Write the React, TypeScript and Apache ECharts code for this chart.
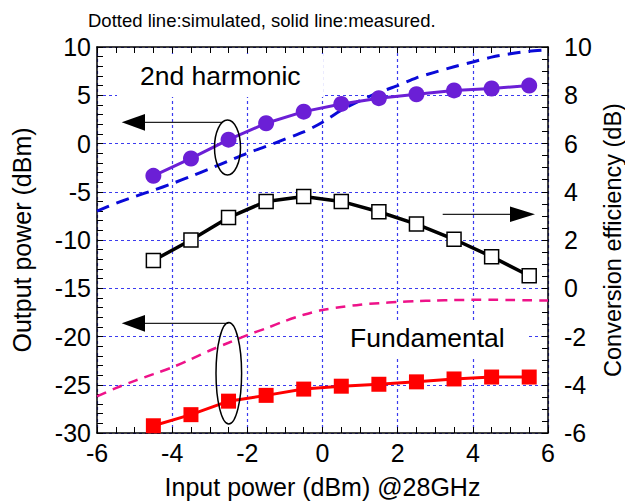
import React, { useEffect, useRef } from "react";
import * as echarts from "echarts";

const FONT = "'Liberation Sans', Arial, sans-serif";

// Measured points (input power, dBm)
const measX = [-4.5, -3.5, -2.5, -1.5, -0.5, 0.5, 1.5, 2.5, 3.5, 4.5, 5.5];
const harm2Measured = [-3.35, -1.55, 0.4, 2.1, 3.3, 4.1, 4.7, 5.1, 5.5, 5.7, 6.0];
const convEfficiency = [1.15, 2.0, 2.93, 3.6, 3.8, 3.6, 3.17, 2.66, 2.03, 1.31, 0.52];
const fundMeasured = [-29.25, -28.1, -26.7, -26.1, -25.45, -25.15, -24.95, -24.7, -24.4, -24.2, -24.2];

// Simulated curves
const simX = [-6, -5.5, -5, -4.5, -4, -3.5, -3, -2.5, -2, -1.5, -1, -0.5, 0, 0.5, 1, 1.5, 2, 2.5, 3, 3.5, 4, 4.5, 5, 5.5, 6];
const harm2Simulated = [-7.0, -6.2, -5.5, -4.85, -4.15, -3.4, -2.62, -1.8, -1.0, -0.3, 0.45, 1.2, 2.2, 3.45, 4.45, 5.3, 6.0, 6.8, 7.4, 7.95, 8.45, 8.95, 9.3, 9.55, 9.7];
const fundSimulated = [-26.2, -25.35, -24.6, -23.9, -23.2, -22.35, -21.45, -20.65, -19.85, -19.15, -18.4, -17.75, -17.25, -16.95, -16.7, -16.55, -16.42, -16.33, -16.27, -16.22, -16.2, -16.2, -16.22, -16.25, -16.28];

const pair = (xs: number[], ys: number[]) => xs.map((x, i) => [x, ys[i]]);

export default function App() {
  const ref = useRef<HTMLDivElement>(null);
  useEffect(() => {
    if (!ref.current) return;
    const chart = echarts.init(ref.current, null, { renderer: "svg" });
    const tick = { show: true, inside: true, length: 6, lineStyle: { color: "#000", width: 1 } };
    const axisLine = { show: true, onZero: false, lineStyle: { color: "#000", width: 1.5 } };
    const gridLine = { show: true, lineStyle: { color: "#3b3bef", width: 1.2, type: [3, 3] } };
    const label = { fontSize: 25, color: "#000", fontFamily: FONT };
    const nameStyle = { fontSize: 25, color: "#000", fontFamily: FONT };
    chart.setOption({
      animation: false,
      backgroundColor: "#fff",
      grid: { left: 97, right: 77, top: 47, bottom: 68, containLabel: false, outerBoundsMode: "none" },
      xAxis: [
        {
          type: "value", position: "bottom", min: -6, max: 6, interval: 2,
          axisLine, axisTick: tick,
          minorTick: { show: true, splitNumber: 4, length: 6, lineStyle: { color: "#000" } },
          splitLine: gridLine,
          axisLabel: { ...label, margin: 7 },
          name: "Input power (dBm) @28GHz", nameLocation: "middle", nameGap: 41, nameTextStyle: nameStyle,
        },
        {
          type: "value", position: "top", min: -6, max: 6, interval: 2,
          axisLine, axisTick: tick,
          minorTick: { show: true, splitNumber: 4, length: 6, lineStyle: { color: "#000" } },
          splitLine: { show: false }, axisLabel: { show: false },
        },
      ],
      yAxis: [
        {
          type: "value", position: "left", min: -30, max: 10, interval: 5,
          axisLine, axisTick: tick,
          minorTick: { show: true, splitNumber: 5, length: 6, lineStyle: { color: "#000" } },
          splitLine: gridLine,
          axisLabel: { ...label, margin: 6 },
          name: "Output power (dBm)", nameLocation: "middle", nameRotate: 90, nameGap: 63, nameTextStyle: nameStyle,
        },
        {
          type: "value", position: "right", min: -6, max: 10, interval: 2,
          axisLine, axisTick: tick,
          minorTick: { show: true, splitNumber: 4, length: 6, lineStyle: { color: "#000" } },
          splitLine: { show: false },
          axisLabel: { ...label, margin: 16 },
          name: "Conversion efficiency (dB)", nameLocation: "middle", nameRotate: 90, nameGap: 53,
          nameMoveOverlap: false,
          nameTextStyle: { ...nameStyle, fontSize: 23.5 },
        },
      ],
      series: [
        {
          name: "2nd harmonic (simulated)", type: "line", xAxisIndex: 0, yAxisIndex: 0,
          data: pair(simX, harm2Simulated), smooth: 0.3, symbol: "none",
          lineStyle: { color: "#0a0ad8", width: 3, type: [13, 8] }, z: 3,
        },
        {
          name: "Fundamental (simulated)", type: "line", xAxisIndex: 0, yAxisIndex: 0,
          data: pair(simX, fundSimulated), smooth: 0.3, symbol: "none",
          lineStyle: { color: "#ee1289", width: 2.5, type: [10, 7] }, z: 3,
        },
        {
          name: "2nd harmonic (measured)", type: "line", xAxisIndex: 0, yAxisIndex: 0,
          data: pair(measX, harm2Measured), symbol: "circle", symbolSize: 16,
          itemStyle: { color: "#6b1fd6" }, lineStyle: { color: "#6b1fd6", width: 3 }, z: 4,
        },
        {
          name: "Conversion efficiency", type: "line", xAxisIndex: 0, yAxisIndex: 1,
          data: pair(measX, convEfficiency), symbol: "rect", symbolSize: 14,
          itemStyle: { color: "#fff", borderColor: "#000", borderWidth: 1.5 },
          lineStyle: { color: "#000", width: 3.5 }, z: 4,
        },
        {
          name: "Fundamental (measured)", type: "line", xAxisIndex: 0, yAxisIndex: 0,
          data: pair(measX, fundMeasured), symbol: "rect", symbolSize: 15,
          itemStyle: { color: "#ff0000" }, lineStyle: { color: "#ff0000", width: 3 }, z: 4,
        },
      ],
      graphic: [
        { type: "rect", z: 1, silent: true, shape: { x: 117, y: 54, width: 206, height: 43 }, style: { fill: "#fff" } },
        { type: "rect", z: 1, silent: true, shape: { x: 323, y: 323, width: 204, height: 34 }, style: { fill: "#fff" } },
        {
          type: "text", z: 10, x: 88, y: 20,
          style: { text: "Dotted line:simulated, solid line:measured.", fontSize: 18.5, fontFamily: FONT, fill: "#000", textVerticalAlign: "middle" },
        },
        {
          type: "text", z: 10, x: 140, y: 76,
          style: { text: "2nd harmonic", fontSize: 26.5, fontFamily: FONT, fill: "#000", textVerticalAlign: "middle" },
        },
        {
          type: "text", z: 10, x: 350, y: 338,
          style: { text: "Fundamental", fontSize: 26.5, fontFamily: FONT, fill: "#000", textVerticalAlign: "middle" },
        },
        // upper left arrow + ellipse
        { type: "line", z: 10, shape: { x1: 145, y1: 122.3, x2: 222, y2: 122.3 }, style: { stroke: "#222", lineWidth: 1.3 } },
        { type: "polygon", z: 10, shape: { points: [[121.7, 122.3], [145, 114], [145, 130.7]] }, style: { fill: "#000" } },
        { type: "ellipse", z: 10, shape: { cx: 227.5, cy: 147.5, rx: 13, ry: 27.5 }, style: { fill: "none", stroke: "#000", lineWidth: 1.5 } },
        // right arrow
        { type: "line", z: 10, shape: { x1: 442.7, y1: 214.3, x2: 511, y2: 214.3 }, style: { stroke: "#222", lineWidth: 1.3 } },
        { type: "polygon", z: 10, shape: { points: [[535, 214.3], [510, 206.5], [510, 222.1]] }, style: { fill: "#000" } },
        // lower left arrow + ellipse
        { type: "line", z: 10, shape: { x1: 145, y1: 323.3, x2: 228.5, y2: 323.3 }, style: { stroke: "#222", lineWidth: 1.3 } },
        { type: "polygon", z: 10, shape: { points: [[121.7, 323.3], [145, 315], [145, 331.7]] }, style: { fill: "#000" } },
        { type: "ellipse", z: 10, shape: { cx: 228.8, cy: 373.3, rx: 12.8, ry: 50.7 }, style: { fill: "none", stroke: "#000", lineWidth: 1.5 } },
      ],
    });
    return () => chart.dispose();
  }, []);
  return <div ref={ref} style={{ position: "absolute", left: 0, top: 0, width: 625, height: 501 }} />;
}
